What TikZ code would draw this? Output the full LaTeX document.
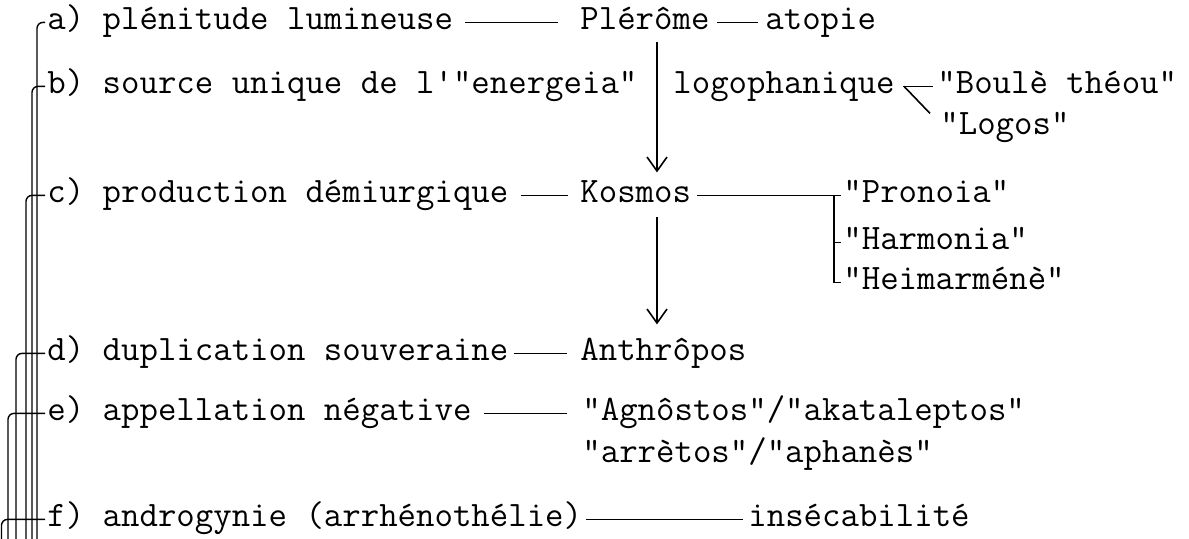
\documentclass[tikz,border=0pt]{standalone}
\usepackage{fontspec}
\usetikzlibrary{arrows.meta}
\begin{document}
\begin{tikzpicture}[x=0.5pt,y=-0.5pt,
  txt/.style={anchor=base west, inner sep=0pt, text height=10.6pt, text depth=3pt,
    font=\ttfamily\fontsize{17.9}{20}\selectfont},
  ln/.style={line width=0.8pt},
  thinln/.style={line width=0.6pt},
  hook/.style={line width=0.7pt, rounded corners=3pt},
  arr/.style={line width=0.7pt, -{Straight Barb[length=7pt,width=10pt,line width=0.8pt]}}]
\useasboundingbox (0,0) rectangle (1189,539);
% text nodes
\node[txt] (a)  at (47,30)   {a) plénitude lumineuse};
\node[txt] (P)  at (580,30)  {Plérôme};
\node[txt] (at) at (765,30)  {atopie};
\node[txt] (b)  at (47,94)   {b) source unique de l'"energeia"};
\node[txt] (lg) at (673,94)  {logophanique};
\node[txt] (bt) at (937,94)  {"Boulè théou"};
\node[txt] (lo) at (940,135) {"Logos"};
\node[txt] (c)  at (47,203)  {c) production démiurgique};
\node[txt] (K)  at (580,203) {Kosmos};
\node[txt] (pr) at (843,203) {"Pronoia"};
\node[txt] (ha) at (843,250) {"Harmonia"};
\node[txt] (he) at (843,290) {"Heimarménè"};
\node[txt] (d)  at (47,361)  {d) duplication souveraine};
\node[txt] (an) at (580,361) {Anthrôpos};
\node[txt] (e)  at (47,421)  {e) appellation négative};
\node[txt] (ag) at (582,421) {"Agnôstos"/"akataleptos"};
\node[txt] (ar) at (582,463) {"arrètos"/"aphanès"};
\node[txt] (f)  at (47,527)  {f) androgynie (arrhénothélie)};
\node[txt] (in) at (748,527) {insécabilité};
% helper coordinates
\coordinate (ax) at (657,0);
\coordinate (bx) at (834,0);
\coordinate (la) at (37,539);
\coordinate (lb) at (32,539);
\coordinate (lc) at (26,539);
\coordinate (ld) at (16,539);
\coordinate (le) at (8,539);
\coordinate (lf) at (1.5,539);
% horizontal links
\draw[ln, shorten <=6pt, shorten >=11pt] (a.east) -- (P.west);
\draw[ln, shorten <=3.5pt, shorten >=3.5pt] (P.east) -- (at.west);
\draw[ln, shorten <=6pt, shorten >=6pt] (c.east) -- (K.west);
\draw[ln, shorten <=2.5pt, shorten >=6.5pt] (d.east) -- (an.west);
\draw[ln, shorten <=6pt, shorten >=7.5pt] (e.east) -- (ag.west);
\draw[ln, shorten <=2pt, shorten >=2.5pt] (f.east) -- (in.west);
% fork to Boule theou / Logos
\draw[ln] ([xshift=4pt]lg.east) -- ([xshift=-2pt]bt.west);
\draw[ln] ([xshift=4.5pt]lg.east) -- ([xshift=-5pt]lo.north west);
% Kosmos bracket
\draw[ln, shorten <=3pt, shorten >=1pt] (K.east) -- (pr.west);
\draw[thinln] (pr.west -| bx) -- (he.west -| bx) -- ([xshift=-1pt]he.west);
\draw[thinln] (ha.west -| bx) -- ([xshift=-1pt]ha.west);
% vertical arrows
\draw[arr, shorten <=3pt, shorten >=4.5pt] (P.south -| ax) -- (K.north -| ax);
\draw[arr, shorten <=4pt, shorten >=7.5pt] (K.south -| ax) -- (an.north -| ax);
% left hooks
\draw[hook] ([xshift=-1pt]a.west) -| (la);
\draw[hook] ([xshift=-1pt]b.west) -| (lb);
\draw[hook] ([xshift=-1pt]c.west) -| (lc);
\draw[hook] ([xshift=-1pt]d.west) -| (ld);
\draw[hook] ([xshift=-1pt]e.west) -| (le);
\draw[hook] ([xshift=-1pt]f.west) -| (lf);
\end{tikzpicture}
\end{document}
